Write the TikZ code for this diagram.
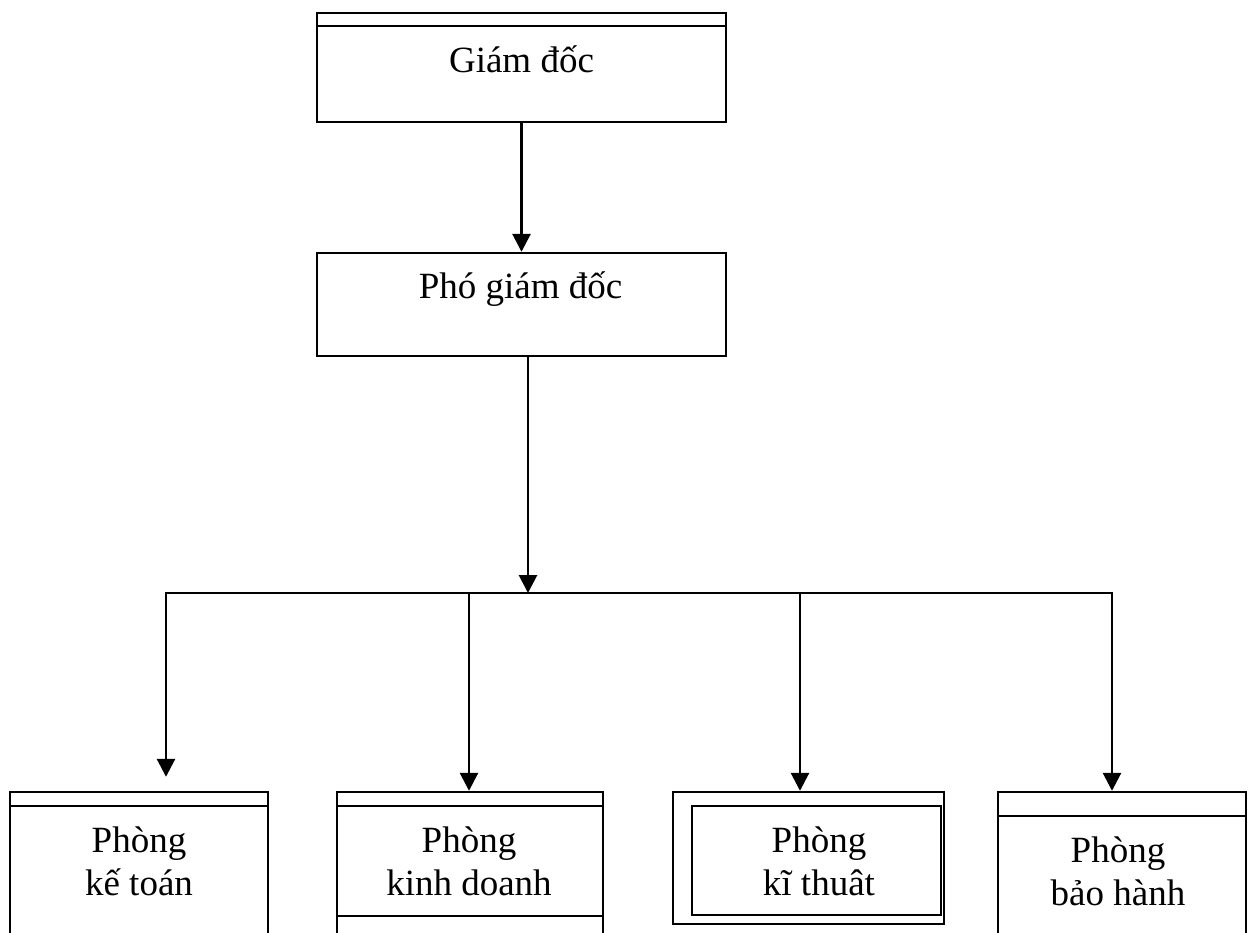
\documentclass[tikz,border=0pt]{standalone}
\usepackage{fontspec}
\setmainfont{Liberation Serif}
\usetikzlibrary{arrows.meta,fit,calc}
\tikzset{
  box/.style={draw, line width=1.2pt, inner sep=0pt, rectangle},
  sepline/.style={line width=1.2pt},
  conn/.style={line width=1.4pt, line cap=rect},
  arr/.style={conn, -{Triangle[width=9pt,length=9pt]}},
  lbl/.style={font=\fontsize{18.5}{21.5}\selectfont, align=center, anchor=base, inner sep=0pt},
}
\begin{document}
\begin{tikzpicture}[x=0.5pt,y=-0.5pt]
\clip (0,0) rectangle (1250,933);
\fill[white] (0,0) rectangle (1250,933);

% top boxes
\node[box, fit={(317,13) (726,122)}] (gd) {};
\draw[sepline] (317,26) -- (726,26);
\node[lbl] (gdt) at (521.5,72) {Giám đốc};

\node[box, fit={(317,253) (726,356)}] (pgd) {};
\node[lbl] (pgdt) at (520.5,298) {Phó giám đốc};

% bottom boxes (anchor base = last line baseline)
\node[box, fit={(10,792) (268,960)}] (kt) {};
\draw[sepline] (10,806) -- (268,806);
\node[lbl] (ktt) at (139,895) {Phòng\\kế toán};

\node[box, fit={(337,792) (603,960)}] (kd) {};
\draw[sepline] (337,806) -- (603,806);
\draw[sepline] (337,916) -- (603,916);
\node[lbl] (kdt) at (469,895) {Phòng\\kinh doanh};

\node[box, fit={(673,792) (944,924)}] (kth) {};
\node[box, fit={(692,806) (941,915)}] (kthi) {};
\node[lbl] (ktht) at (819,895) {Phòng\\kĩ thuât};

\node[box, fit={(998,792) (1246,960)}] (bh) {};
\draw[sepline] (998,816) -- (1246,816);
\node[lbl] (bht) at (1118,905) {Phòng\\bảo hành};

% connectors
\coordinate (bus) at (528,593);
\coordinate (busL) at (166,593);
\coordinate (bus2) at (469,593);
\coordinate (bus3) at (800,593);
\coordinate (busR) at (1112,593);

\draw[arr] (gd.south) -- (pgd.north);
\draw[arr] (pgd.south -| bus) -- (bus);
\draw[arr] (busR) -- (busL) -- ($(busL |- kt.north)+(0,-14)$);
\draw[arr] (bus2) -- (bus2 |- kd.north);
\draw[arr] (bus3) -- (bus3 |- kth.north);
\draw[arr] (busR) -- (busR |- bh.north);
\end{tikzpicture}
\end{document}
